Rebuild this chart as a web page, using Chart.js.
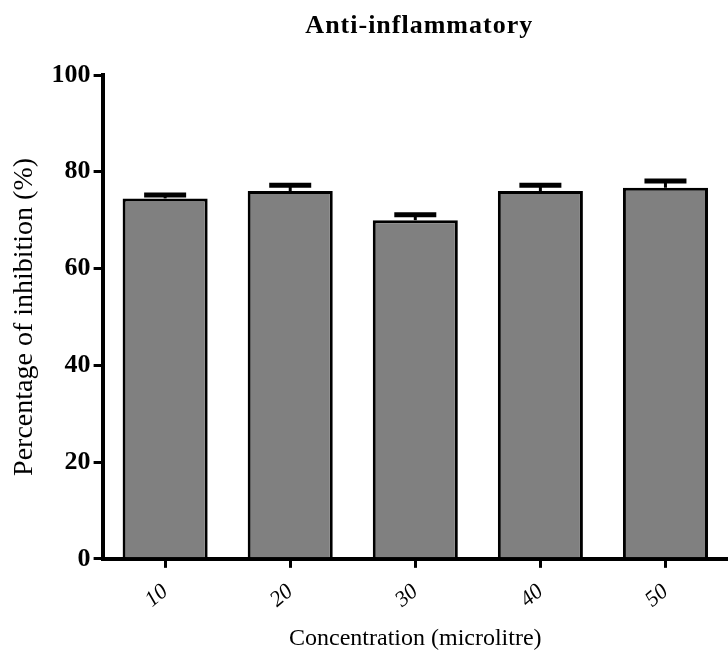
<!DOCTYPE html>
<html>
<head>
<meta charset="utf-8">
<script src="https://cdn.jsdelivr.net/npm/chart.js@4"></script>
<style>
  html, body { margin: 0; padding: 0; background: #fff; }
  #wrap { width: 728px; height: 657px; }
</style>
</head>
<body>
<div id="wrap"><canvas id="barChart" width="728" height="657"></canvas></div>
<script>
var concentrations = ["10", "20", "30", "40", "50"];
var inhibition = [74.5, 76.0, 70.0, 76.0, 76.7];
var inhibitionErr = [0.7, 1.2, 1.1, 1.2, 1.4];
var yTicks = [0, 20, 40, 60, 80, 100];

var serif = "'Liberation Serif', 'DejaVu Serif', serif";

// upper error bars (GraphPad style: cap only above the bar)
Chart.register({
    id: 'errorBars',
    afterDatasetsDraw: function (chart) {
        var ctx = chart.ctx;
        var yScale = chart.scales.y;
        var meta = chart.getDatasetMeta(0);
        ctx.save();
        ctx.strokeStyle = '#000';
        meta.data.forEach(function (bar, i) {
            var top = yScale.getPixelForValue(inhibition[i] + inhibitionErr[i]);
            ctx.lineWidth = 3;
            ctx.beginPath();
            ctx.moveTo(bar.x, bar.y);
            ctx.lineTo(bar.x, top);
            ctx.stroke();
            ctx.lineWidth = 5;
            ctx.beginPath();
            ctx.moveTo(bar.x - 21, top);
            ctx.lineTo(bar.x + 21, top);
            ctx.stroke();
        });
        ctx.restore();
    }
});

// title centred over the plot area
Chart.register({
    id: 'plotTitle',
    afterDraw: function (chart) {
        var ctx = chart.ctx;
        var area = chart.chartArea;
        ctx.save();
        ctx.fillStyle = '#000';
        ctx.font = "bold 26px " + serif;
        ctx.letterSpacing = '1px';
        ctx.textAlign = 'center';
        ctx.textBaseline = 'alphabetic';
        ctx.fillText("Anti-inflammatory", (area.left + area.right) / 2 + 4, 33);
        ctx.restore();
    }
});

var ctxB = document.getElementById("barChart").getContext('2d');
var myBarChart = new Chart(ctxB, {
    type: 'bar',
    data: {
        labels: concentrations,
        datasets: [{
            data: inhibition,
            backgroundColor: "#808080",
            borderColor: "#000",
            borderWidth: 3,
            barPercentage: 0.68,
            categoryPercentage: 1.0
        }]
    },
    options: {
        responsive: false,
        animation: false,
        layout: {
            padding: { top: 75, right: 0, bottom: 0, left: 8 }
        },
        plugins: {
            legend: { display: false },
            tooltip: { enabled: false }
        },
        scales: {
            x: {
                grid: { display: true, offset: false, drawOnChartArea: false, drawTicks: true, tickLength: 9, color: '#000', lineWidth: 3 },
                border: { display: true, color: '#000', width: 4 },
                ticks: {
                    color: '#000',
                    maxRotation: 40,
                    minRotation: 40,
                    padding: 11,
                    font: { family: serif, size: 22, style: 'italic' }
                },
                title: {
                    display: true,
                    text: "Concentration (microlitre)",
                    color: '#000',
                    font: { family: serif, size: 24 },
                    padding: { top: 0, bottom: 4 }
                }
            },
            y: {
                min: 0,
                max: 100,
                afterBuildTicks: function (axis) {
                    axis.ticks = yTicks.map(function (v) { return { value: v }; });
                },
                grid: { display: true, drawOnChartArea: false, drawTicks: true, tickLength: 9, color: '#000', lineWidth: 3 },
                border: { display: true, color: '#000', width: 4 },
                ticks: {
                    color: '#000',
                    padding: 3,
                    font: { family: serif, size: 26, weight: 'bold' }
                },
                title: {
                    display: true,
                    text: "Percentage of inhibition (%)",
                    color: '#000',
                    font: { family: serif, size: 28 },
                    padding: { top: 0, bottom: 7 }
                }
            }
        }
    }
});
</script>
</body>
</html>
